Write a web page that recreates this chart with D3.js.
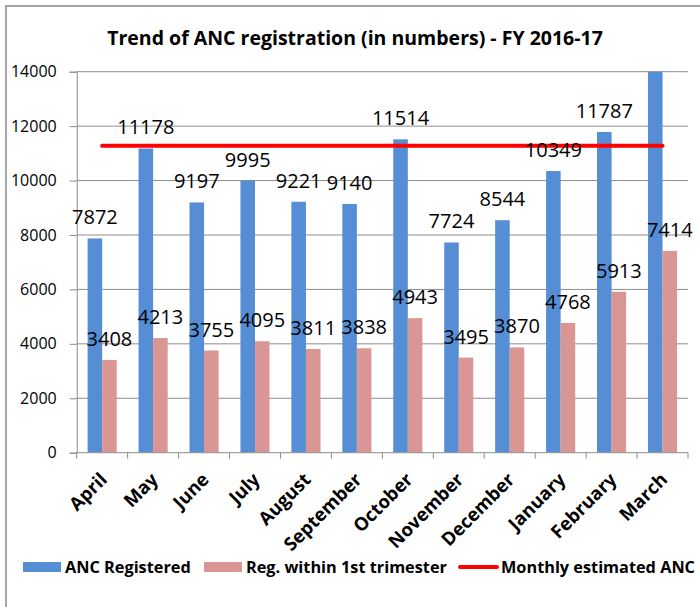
<html>
<head>
<script src="https://cdn.jsdelivr.net/npm/d3@7"></script>
<style>
  body { margin: 0; background: #fff; }
  text { font-family: "Open Sans", sans-serif; fill: #000; }
</style>
</head>
<body>
<div id="chart"></div>
<script>
// data
const months = ["April", "May", "June", "July", "August", "September",
  "October", "November", "December", "January", "February", "March"];
const ancRegistered = [7872, 11178, 9197, 9995, 9221, 9140, 11514, 7724, 8544, 10349, 11787, 14600];
const firstTrimester = [3408, 4213, 3755, 4095, 3811, 3838, 4943, 3495, 3870, 4768, 5913, 7414];
const monthlyEstimate = 11280;
const yTicks = [0, 2000, 4000, 6000, 8000, 10000, 12000, 14000];
const seriesNames = ["ANC Registered", "Reg. within 1st trimester", "Monthly estimated ANC"];

const W = 700, H = 607;
const plot = { left: 76.7, right: 688, top: 71.7, bottom: 452.7 };
const blue = "#558ed5", pink = "#d99694", red = "#ff0000", grid = "#8c8c8c";

const rows = months.map((m, i) => ({ month: m, anc: ancRegistered[i], tri: firstTrimester[i] }));

const svg = d3.select("#chart").append("svg")
  .attr("width", W).attr("height", H);

// chart border
svg.append("rect")
  .attr("x", 6).attr("y", 6).attr("width", W).attr("height", H)
  .attr("fill", "none").attr("stroke", "#a6a6a6").attr("stroke-width", 2);

// title
const title = svg.append("text")
  .attr("x", 355).attr("y", 45)
  .attr("text-anchor", "middle")
  .style("font-weight", "bold")
  .style("font-size", "18px")
  .text("Trend of ANC registration (in numbers) - FY 2016-17");
// squeeze to the width it has in the picture
const tw = title.node().getComputedTextLength();
title.style("font-size", (18 * 496 / tw).toFixed(2) + "px");

let x = d3.scaleBand().domain(months).range([plot.left, plot.right]).padding(0);
let x1 = d3.scaleBand().domain(["anc", "tri"]).range([0, x.bandwidth()])
  .paddingInner(0).paddingOuter(0.75);
let y = d3.scaleLinear().domain([0, 14000]).range([plot.bottom, plot.top]);

// gridlines
svg.append("g").selectAll("line")
  .data(yTicks.slice(1))
  .join("line")
  .attr("x1", plot.left).attr("x2", plot.right)
  .attr("y1", d => y(d)).attr("y2", d => y(d))
  .attr("stroke", grid).attr("stroke-width", 1);

// y axis
let yAxis = d3.axisLeft(y).tickValues(yTicks).tickSize(7).tickPadding(13).tickFormat(d3.format("d"));
let yAxisGroup = svg.append("g")
  .attr("transform", `translate(${plot.left},0)`)
  .call(yAxis);
yAxisGroup.select(".domain").attr("stroke", grid);
yAxisGroup.selectAll(".tick line").attr("stroke", grid);
yAxisGroup.selectAll(".tick text")
  .style("font-size", "16px").style("font-family", "Open Sans, sans-serif");

// clip so an off-scale bar stops at the top of the plot
svg.append("defs").append("clipPath").attr("id", "clip")
  .append("rect")
  .attr("x", plot.left).attr("y", plot.top)
  .attr("width", plot.right - plot.left).attr("height", plot.bottom - plot.top);

const bars = svg.append("g").attr("clip-path", "url(#clip)");
const groups = bars.selectAll("g")
  .data(rows)
  .join("g")
  .attr("transform", d => `translate(${x(d.month)},0)`);

groups.append("rect")
  .attr("x", x1("anc")).attr("width", x1.bandwidth())
  .attr("y", d => y(d.anc)).attr("height", d => y(0) - y(d.anc))
  .attr("fill", blue);

groups.append("rect")
  .attr("x", x1("tri")).attr("width", x1.bandwidth())
  .attr("y", d => y(d.tri)).attr("height", d => y(0) - y(d.tri))
  .attr("fill", pink);

// x axis with ticks between categories
svg.append("line")
  .attr("x1", plot.left).attr("x2", plot.right)
  .attr("y1", plot.bottom).attr("y2", plot.bottom)
  .attr("stroke", grid);
svg.append("g").selectAll("line")
  .data(months.concat(["end"]))
  .join("line")
  .attr("x1", (d, i) => plot.left + i * x.step())
  .attr("x2", (d, i) => plot.left + i * x.step())
  .attr("y1", plot.bottom).attr("y2", plot.bottom + 6)
  .attr("stroke", grid);

svg.append("g").selectAll("text")
  .data(months)
  .join("text")
  .attr("transform", d => `translate(${x(d) + x.bandwidth() / 2 + 6},${plot.bottom + 28}) rotate(-45)`)
  .attr("text-anchor", "end")
  .style("font-weight", "bold")
  .style("font-size", "18.5px")
  .text(d => d);

// red estimate line
svg.append("line")
  .attr("x1", x(months[0]) + x.bandwidth() / 2)
  .attr("x2", x(months[months.length - 1]) + x.bandwidth() / 2)
  .attr("y1", y(monthlyEstimate)).attr("y2", y(monthlyEstimate))
  .attr("stroke", red).attr("stroke-width", 4)
  .attr("stroke-linecap", "round");

// value labels (off-scale ones are hidden)
const labels = svg.append("g");
labels.selectAll(".ancLabel")
  .data(rows.filter(d => d.anc <= 14000))
  .join("text")
  .attr("class", "ancLabel")
  .attr("x", d => x(d.month) + x1("anc") + x1.bandwidth() / 2)
  .attr("y", d => y(d.anc) - 14)
  .attr("text-anchor", "middle")
  .style("font-size", "20px")
  .text(d => d.anc);
labels.selectAll(".triLabel")
  .data(rows)
  .join("text")
  .attr("class", "triLabel")
  .attr("x", d => x(d.month) + x1("tri") + x1.bandwidth() / 2)
  .attr("y", d => y(d.tri) - 14)
  .attr("text-anchor", "middle")
  .style("font-size", "20px")
  .text(d => d.tri);

// legend
const legendY = 567;
const legendX = [23, 204, 459];
const legend = svg.append("g");
seriesNames.forEach((name, i) => {
  if (i < 2) {
    legend.append("rect")
      .attr("x", legendX[i]).attr("y", legendY - 5)
      .attr("width", 38).attr("height", 10)
      .attr("fill", i === 0 ? blue : pink);
  } else {
    legend.append("line")
      .attr("x1", legendX[i] + 1).attr("x2", legendX[i] + 38)
      .attr("y1", legendY).attr("y2", legendY)
      .attr("stroke", red).attr("stroke-width", 4)
      .attr("stroke-linecap", "round");
  }
  legend.append("text")
    .attr("x", legendX[i] + 42).attr("y", legendY + 6)
    .style("font-weight", "bold")
    .style("font-size", "16.3px")
    .text(name);
});
</script>
</body>
</html>
